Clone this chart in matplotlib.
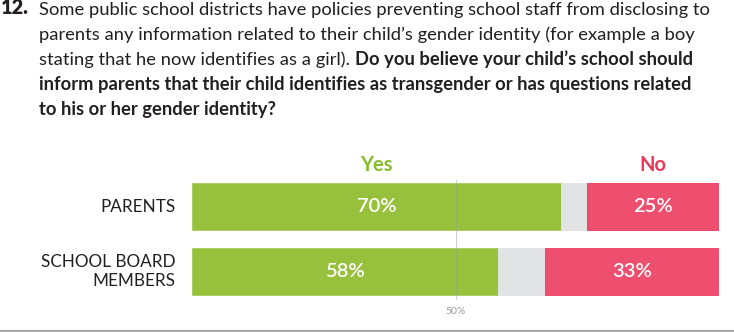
import matplotlib
matplotlib.use("Agg")
import matplotlib.pyplot as plt
from matplotlib import font_manager
from matplotlib.lines import Line2D

# ---- data -------------------------------------------------------------
groups = ["PARENTS", "SCHOOL BOARD\nMEMBERS"]
yes_pct = [70, 58]
no_pct = [25, 33]
header_yes = "Yes"
header_no = "No"
midpoint = 50

question_num = "12."
question_lines = [
    [("Some public school districts have policies preventing school staff from disclosing to", "normal")],
    [("parents any information related to their child\u2019s gender identity (for example a boy", "normal")],
    [("stating that he now identifies as a girl).", "normal"),
     ("Do you believe your child\u2019s school should", "bold")],
    [("inform parents that their child identifies as transgender or has questions related", "bold")],
    [("to his or her gender identity?", "bold")],
]

# ---- style ------------------------------------------------------------
GREEN = "#97c13d"
RED = "#ef4f6e"
GREY = "#e1e3e4"
GREEN_TXT = "#86bb2a"
RED_TXT = "#ea3659"
INK = "#231f20"

available = {f.name for f in font_manager.fontManager.ttflist}
FONT = "Lato" if "Lato" in available else "DejaVu Sans"

W, H = 734, 332
fig = plt.figure(figsize=(W / 100, H / 100), dpi=100)
fig.patch.set_facecolor("white")
renderer = fig.canvas.get_renderer()


def fx(x):
    return x / W


def fy(y):
    return 1 - y / H


def text_width(s, size, weight):
    t = fig.text(0, 0, s, fontsize=size, fontweight=weight, family=FONT)
    w = t.get_window_extent(renderer).width
    t.remove()
    return w


# pick the body size so the first line spans its column
BODY_X, BODY_RIGHT = 39, 712
probe = 10.0
w0 = text_width(question_lines[0][0][0], probe, "normal")
body_size = probe * (BODY_RIGHT - BODY_X) / w0
space_w = text_width("a a", body_size, "normal") - text_width("aa", body_size, "normal")

baselines = [14.5, 39.8, 65.0, 90.3, 115.5]
fig.text(fx(1), fy(baselines[0]), question_num, fontsize=body_size * 1.08, fontweight="heavy",
         family=FONT, color=INK, va="baseline", ha="left")
for line, yb in zip(question_lines, baselines):
    x = BODY_X
    for seg, weight in line:
        t = fig.text(fx(x), fy(yb), seg, fontsize=body_size, fontweight=weight,
                     family=FONT, color=INK, va="baseline", ha="left")
        x = t.get_window_extent(renderer).x1 + space_w

# ---- bars ---------------------------------------------------------------
ax_top, ax_bot = 175, 300
ax = fig.add_axes([fx(192), fy(ax_bot), (719 - 192) / W, (ax_bot - ax_top) / H])
ax.set_xlim(0, 100)
ax.set_ylim(1.433, -0.483)
ax.axis("off")

ypos = list(range(len(groups)))
bar_h = 0.72
dk = [100 - y - n for y, n in zip(yes_pct, no_pct)]
yes_left = [0] * len(groups)
dk_left = yes_pct
no_left = [100 - n for n in no_pct]

ax.barh(ypos, yes_pct, left=yes_left, height=bar_h, color=GREEN, edgecolor="#a6cc5a", linewidth=0.6)
ax.barh(ypos, dk, left=dk_left, height=bar_h, color=GREY, edgecolor=GREY, linewidth=0.6)
ax.barh(ypos, no_pct, left=no_left, height=bar_h, color=RED, edgecolor="#f0385f", linewidth=0.6)

for i in ypos:
    ax.text(yes_pct[i] / 2, i, f"{yes_pct[i]}%", ha="center", va="center",
            color="white", fontsize=14.5, family=FONT, fontweight="semibold")
    ax.text(100 - no_pct[i] / 2, i, f"{no_pct[i]}%", ha="center", va="center",
            color="white", fontsize=14.5, family=FONT, fontweight="semibold")
    ax.text(-3.2, i, groups[i], ha="right", va="center", color=INK, fontsize=12.3,
            family=FONT, fontweight="normal", linespacing=1.25, clip_on=False)

# column headers over the first row
ax.text(yes_pct[0] / 2, -0.64, header_yes, ha="center", va="center", color=GREEN_TXT,
        fontsize=14.5, family=FONT, fontweight="bold", clip_on=False)
ax.text(100 - no_pct[0] / 2, -0.64, header_no, ha="center", va="center", color=RED_TXT,
        fontsize=14.5, family=FONT, fontweight="bold", clip_on=False)

# midpoint reference
ax.axvline(midpoint, ymin=0.0, ymax=0.96, color="#9a9a9a", alpha=0.45, lw=0.8, zorder=5)
ax.text(midpoint, 1.61, f"{midpoint}%", ha="center", va="center", color="#9b9b9b",
        fontsize=7.5, family=FONT, clip_on=False)

# rule along the bottom edge
fig.add_artist(Line2D([0, 1], [fy(330.8), fy(330.8)], transform=fig.transFigure,
                      color="#a9a9a9", lw=1.6))

fig.savefig("out.png", dpi=100, facecolor="white")
